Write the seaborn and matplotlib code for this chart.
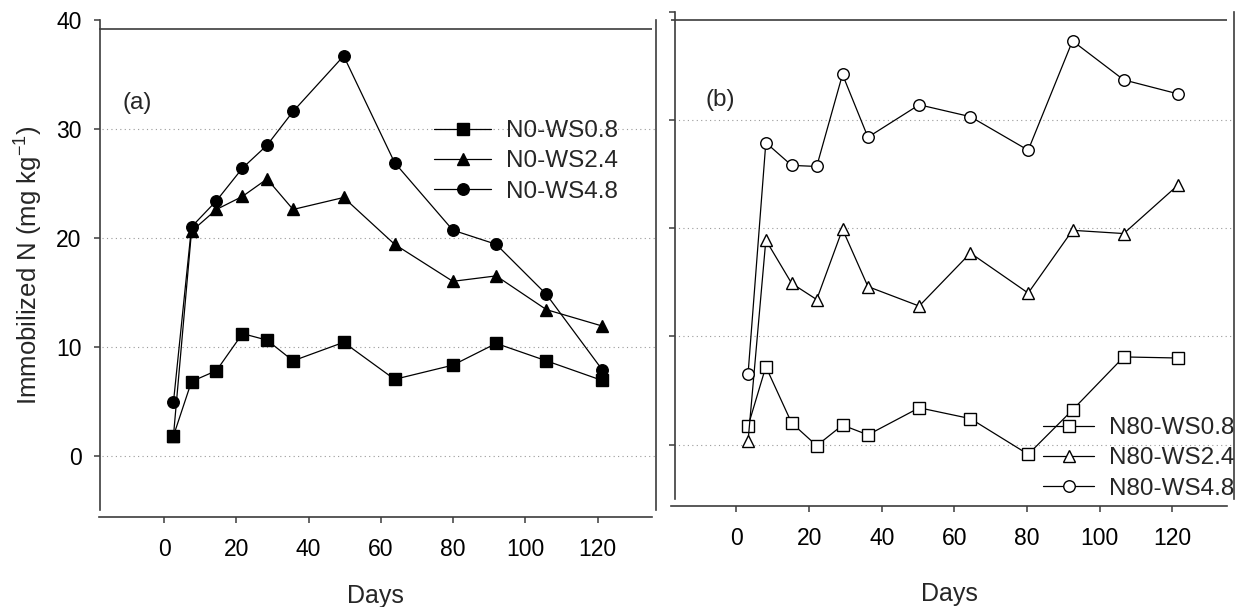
import matplotlib
matplotlib.use("Agg")
import matplotlib.pyplot as plt
import seaborn as sns

# Sampling days for each experiment
days_n0 = [2.6, 7.6, 14.5, 21.7, 28.5, 35.7, 49.7, 63.8, 79.9, 91.9, 105.8, 121.2]
days_n80 = [3.2, 8.1, 15.2, 22.1, 29.2, 36.2, 50.3, 64.4, 80.3, 92.5, 106.6, 121.6]

# Immobilized N (mg kg-1), no mineral N added
n0_ws08 = [1.8, 6.8, 7.8, 11.2, 10.6, 8.7, 10.4, 7.0, 8.3, 10.3, 8.7, 6.9]
n0_ws24 = [1.8, 20.6, 22.6, 23.8, 25.4, 22.6, 23.7, 19.4, 16.0, 16.5, 13.4, 11.9]
n0_ws48 = [4.9, 21.0, 23.4, 26.4, 28.5, 31.6, 36.7, 26.9, 20.7, 19.4, 14.8, 7.9]

# Immobilized N (mg kg-1), 80 mg N added
n80_ws08 = [1.7, 7.2, 2.0, -0.1, 1.8, 0.9, 3.4, 2.4, -0.9, 3.2, 8.1, 8.0]
n80_ws24 = [0.3, 18.9, 14.9, 13.4, 19.9, 14.6, 12.8, 17.7, 14.0, 19.8, 19.5, 24.0]
n80_ws48 = [6.5, 27.9, 25.8, 25.7, 34.2, 28.4, 31.4, 30.3, 27.2, 37.3, 33.7, 32.4]

labels_n0 = ["N0-WS0.8", "N0-WS2.4", "N0-WS4.8"]
labels_n80 = ["N80-WS0.8", "N80-WS2.4", "N80-WS4.8"]
y_ticks = [0, 10, 20, 30, 40]
x_ticks = [0, 20, 40, 60, 80, 100, 120]

sns.set_style("ticks")
plt.rcParams["font.family"] = ["Liberation Sans", "DejaVu Sans"]
plt.rcParams["mathtext.fontset"] = "custom"
plt.rcParams["mathtext.rm"] = "Liberation Sans"
plt.rcParams["mathtext.default"] = "regular"

W, H = 1240, 607
fig = plt.figure(figsize=(W / 100, H / 100), dpi=100)


def add_axes_px(left, top, right, bottom):
    return fig.add_axes([left / W, 1 - bottom / H, (right - left) / W, (bottom - top) / H])


SPINE = "#3c3c3c"
MARKERS = ["s", "^", "o"]


def draw_panel(ax, days, series, labels, filled, tag, tag_xy, left_pos, right_pos,
               legend_anchor, handlelength, show_ylabels):
    for vals, lab, mk in zip(series, labels, MARKERS):
        sns.lineplot(x=days, y=vals, ax=ax, color="black", linewidth=0.9,
                     marker=mk, markersize=8.3 if mk != "^" else 9,
                     markerfacecolor="black" if filled else "white",
                     markeredgecolor="black", markeredgewidth=1.0,
                     label=lab, zorder=4)

    ax.set_xlim(-18, 135.1)
    ax.set_ylim(-5, 40)

    # dotted reference lines
    for y in y_ticks[:-1]:
        ax.axhline(y, color="#9a9a9a", lw=0.8, ls=(0, (1, 3)),
                   xmin=0.005, xmax=1.008, clip_on=False, zorder=1)
    # top frame line
    ax.axhline(39.2, color=SPINE, lw=1.2, zorder=2)

    ax.spines["top"].set_visible(False)
    for side in ("left", "right", "bottom"):
        ax.spines[side].set_visible(True)
        ax.spines[side].set_color(SPINE)
        ax.spines[side].set_linewidth(1.2)
    ax.spines["left"].set_position(("data", left_pos))
    ax.spines["right"].set_position(("data", right_pos))
    ax.spines["bottom"].set_position(("outward", 5))

    ax.yaxis.set_ticks_position("left")
    ax.xaxis.set_ticks_position("bottom")
    ax.set_yticks(y_ticks)
    ax.set_xticks(x_ticks)
    ax.tick_params(axis="both", direction="out", length=4.3, width=1.1,
                   color=SPINE, labelsize=16.5, labelcolor="black")
    ax.tick_params(axis="y", pad=9)
    ax.tick_params(axis="x", pad=11)
    if not show_ylabels:
        ax.set_yticklabels([])

    ax.set_xlabel("Days", fontsize=18)
    ax.text(tag_xy[0], tag_xy[1], tag, fontsize=17.5, ha="left", va="center")

    ax.legend(loc="upper left", bbox_to_anchor=(legend_anchor[0] / W, 1 - legend_anchor[1] / H),
              bbox_transform=fig.transFigure, frameon=False, fontsize=17.5,
              borderpad=0, borderaxespad=0, handlelength=handlelength,
              handletextpad=0.6, labelspacing=0.34, numpoints=1)


ax_a = add_axes_px(99, 20, 652.3, 510)
ax_b = add_axes_px(671, 11.7, 1227.3, 498.7)

draw_panel(ax_a, days_n0, [n0_ws08, n0_ws24, n0_ws48], labels_n0, True,
           "(a)", (-11.4, 32.35), -17.7, 136.2, (434, 120), 2.35, True)
draw_panel(ax_b, days_n80, [n80_ws08, n80_ws24, n80_ws48], labels_n80, False,
           "(b)", (-8.5, 31.8), -16.8, 137.0, (1043, 417), 2.1, False)

ax_a.set_ylabel("Immobilized N (mg kg$^{-1}$)", fontsize=18.5)
ax_a.yaxis.set_label_coords(-0.098, 0.5)
ax_a.xaxis.set_label_coords(0.5, -0.150)
ax_b.xaxis.set_label_coords(0.5, -0.172)

fig.savefig("out.png", dpi=100)
